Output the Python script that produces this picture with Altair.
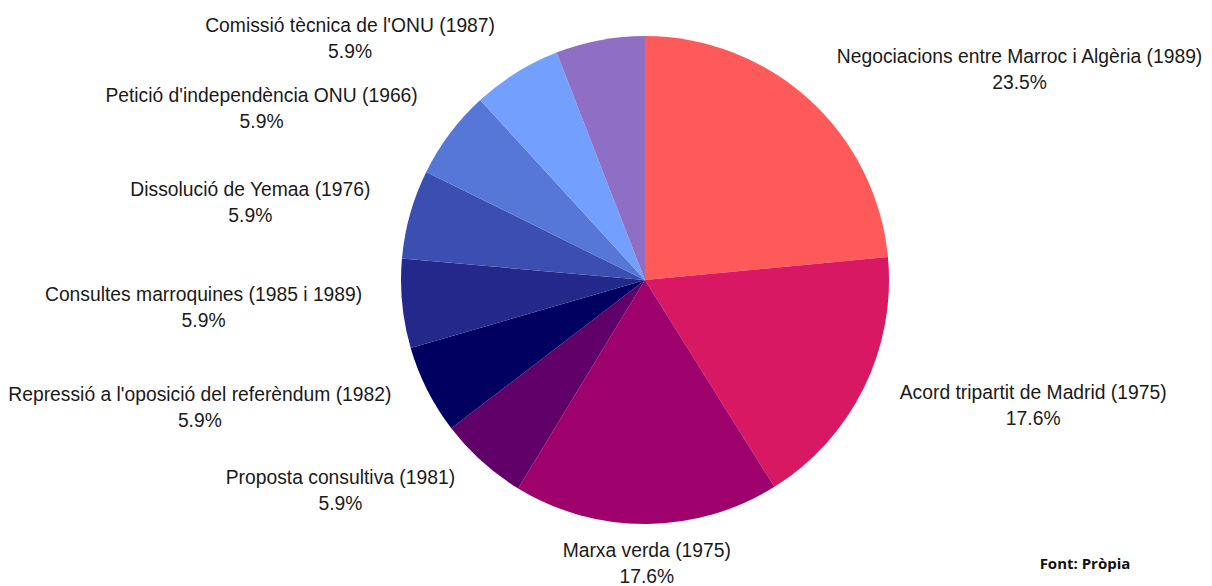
import altair as alt
import pandas as pd
import unicodedata

# ---- data ----
categories = [
    "Negociacions entre Marroc i Algèria (1989)",
    "Acord tripartit de Madrid (1975)",
    "Marxa verda (1975)",
    "Proposta consultiva (1981)",
    "Repressió a l'oposició del referèndum (1982)",
    "Consultes marroquines (1985 i 1989)",
    "Dissolució de Yemaa (1976)",
    "Petició d'independència ONU (1966)",
    "Comissió tècnica de l'ONU (1987)",
    "",  # slice whose label is not visible in the reference
]
values = [23.5, 17.6, 17.6, 5.9, 5.9, 5.9, 5.9, 5.9, 5.9, 5.9]
colors = ["#FF5A5A", "#D81862", "#9E006C", "#62006A", "#000060",
          "#24288A", "#3B4FB1", "#5677D8", "#739FFF", "#8E6FC4"]

# ---- Arial / Liberation Sans advance widths (per 1000 em) for label block widths ----
W = {" ": 278, "'": 191, "(": 333, ")": 333, ".": 278, "%": 889}
W.update({d: 556 for d in "0123456789"})
W.update(dict(zip("abcdefghijklmnopqrstuvwxyz",
                  [556, 556, 500, 556, 556, 278, 556, 556, 222, 222, 500, 222, 833,
                   556, 556, 556, 556, 333, 500, 278, 556, 500, 722, 500, 500, 500])))
W.update(dict(zip("ABCDEFGHIJKLMNOPQRSTUVWXYZ",
                  [667, 667, 722, 722, 667, 611, 778, 722, 278, 500, 667, 556, 833,
                   722, 778, 667, 778, 722, 667, 611, 722, 667, 944, 667, 667, 611])))

FS = 19.3


def text_width(s, size):
    base = unicodedata.normalize("NFD", s)
    return sum(W.get(ch, 0) for ch in base if not unicodedata.combining(ch)) * size / 1000


df = pd.DataFrame({"cat": categories, "value": values, "order": list(range(len(categories)))})
df["pct"] = [f"{v:.1f}%" for v in values]
df["w"] = [text_width(c, FS) for c in categories]

# layout constants (pixels in plot area)
CX, CY, R, RL = 637, 272, 244, 284

base = alt.Chart(df)

arcs = base.mark_arc(outerRadius=R, strokeWidth=0).encode(
    theta=alt.Theta("value:Q", stack=True),
    color=alt.Color("cat:N", scale=alt.Scale(domain=categories, range=colors), legend=None),
    order=alt.Order("order:Q"),
    x=alt.value(CX),
    y=alt.value(CY),
)

lab = (
    base.transform_joinaggregate(total="sum(value)")
    .transform_window(cum="sum(value)", sort=[alt.SortField("order", order="ascending")])
    .transform_calculate(mid="2*PI*(datum.cum - datum.value/2)/datum.total")
    .transform_calculate(s="sin(datum.mid)", c="cos(datum.mid)")
    .transform_calculate(side="datum.s > 0.05 ? 1 : (datum.s < -0.05 ? -1 : 0)")
    .transform_calculate(
        lx=f"{CX} + {RL}*datum.s + datum.side*datum.w/2",
        ly=f"{CY} - {RL}*datum.c",
    )
    .transform_calculate(ly1="datum.ly - 13", ly2="datum.ly + 13")
    .transform_filter("datum.cat != ''")
)

txt_kw = dict(align="center", baseline="middle", font="Liberation Sans",
              fontSize=FS, color="#1a1a1a")

names = lab.mark_text(**txt_kw).encode(
    x=alt.X("lx:Q", scale=None, axis=None),
    y=alt.Y("ly1:Q", scale=None, axis=None),
    text="cat:N",
)
pcts = lab.mark_text(**txt_kw).encode(
    x=alt.X("lx:Q", scale=None, axis=None),
    y=alt.Y("ly2:Q", scale=None, axis=None),
    text="pct:N",
)

caption = alt.Chart(pd.DataFrame({"t": ["Font: Pròpia"]})).mark_text(
    align="center", baseline="middle", font="Open Sans", fontWeight="bold",
    fontSize=15, color="#111111",
).encode(x=alt.value(1077), y=alt.value(556), text="t:N")

chart = (
    alt.layer(arcs, names, pcts, caption)
    .properties(width=1196, height=578, padding=0, autosize="none", background="white")
    .configure_view(stroke=None)
)

chart.save("out.html", embed_options={"renderer": "svg", "actions": False})
